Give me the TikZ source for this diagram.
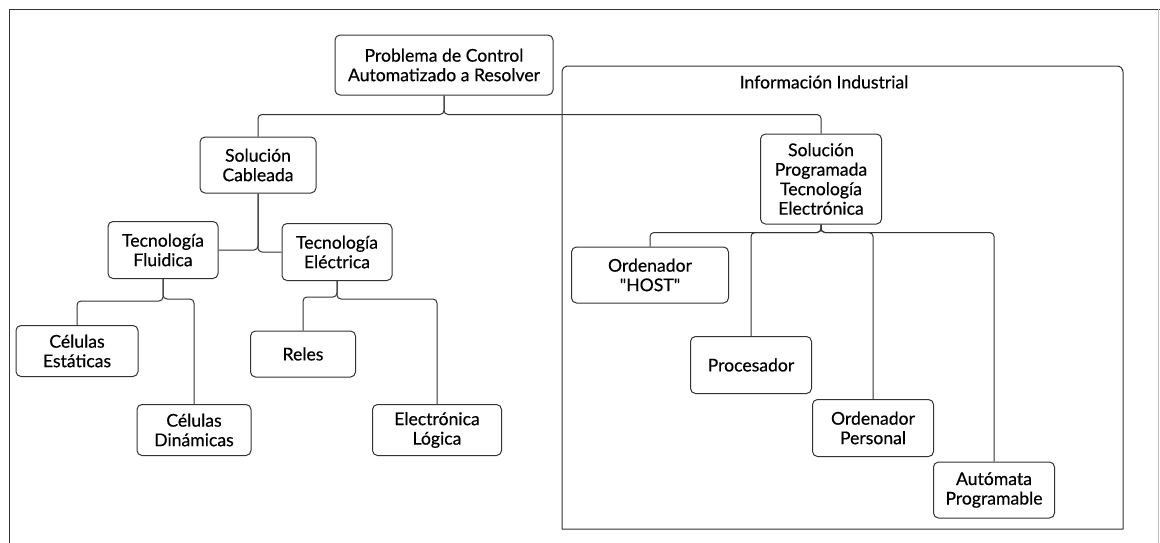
\documentclass[tikz,border=0pt]{standalone}
\usepackage{fontspec}
\setmainfont{Lato}[FakeBold=0.5, Ligatures=TeXOff]
\usetikzlibrary{positioning}

\begin{document}
\begin{tikzpicture}[x=1pt, y=-1pt,
    box/.style={draw=black!80, line width=1pt, rounded corners=5pt, align=center, inner sep=0pt, font=\fontsize{17.6}{19.5}\selectfont},
    lnk/.style={draw=black!80, line width=1pt, rounded corners=4pt},
    frm/.style={draw=black!80, line width=1pt},
    ttl/.style={font=\fontsize{17.6}{19.5}\selectfont}]
    \useasboundingbox (0,0) rectangle (1160,542);
    % outer frame
    \draw[frm] (9,545) -- (9,9) -- (1165,9);
    \draw[black!25, line width=0.8pt] (1158,9) -- (1158,545);
    % root
    \node[box, minimum width=218pt, minimum height=60pt] (prob) at (444,65) {Problema de Control\\Automatizado a Resolver};
    % wired solution
    \node[box, minimum width=116pt, minimum height=56pt] (cab) at (258,165) {Solución\\Cableada};
    \node[box, minimum width=110pt, minimum height=57pt] (flu) at (163,250) {Tecnología\\Fluidica};
    \node[box, minimum width=110pt, minimum height=57pt] (ele) at (337,252) {Tecnología\\Eléctrica};
    \node[box, minimum width=122pt, minimum height=51pt] (est) at (77,351) {Células\\Estáticas};
    \node[box, minimum width=114pt, minimum height=51pt] (din) at (194,430) {Células\\Dinámicas};
    \node[box, minimum width=105pt, minimum height=46pt] (rel) at (303,354) {Reles};
    \node[box, minimum width=129pt, minimum height=51pt] (elo) at (437,430) {Electrónica\\Lógica};
    % industrial information
    \draw[frm] (562,529) [rounded corners=6pt] -- (562,66) -- (1123,66) [sharp corners] -- (1123,529) -- cycle;
    \node[ttl] (infottl) at (824,82) {Información Industrial};
    \node[box, minimum width=121pt, minimum height=90pt] (prog) at (821,179) {Solución\\Programada\\Tecnología\\Electrónica};
    \node[box, minimum width=157pt, minimum height=56pt] (host) at (650,275) {Ordenador\\"HOST"};
    \node[box, minimum width=121pt, minimum height=57pt] (proc) at (751,365) {Procesador};
    \node[box, minimum width=121pt, minimum height=57pt] (pers) at (873,428) {Ordenador\\Personal};
    \node[box, minimum width=121pt, minimum height=56pt] (auto) at (994,490) {Autómata\\Programable};
    % links
    \draw[lnk] (prob.south) -- ++(0,19) -| (cab.north);
    \draw[lnk] (prob.south) -- ++(0,19) -| (prog.north);
    \draw[lnk] (cab.south) |- (flu.east);
    \draw[lnk] (cab.south) |- (ele.west);
    \draw[lnk] (flu.south) -- ++(0,22) -| (est.north);
    \draw[lnk] (flu.south) -- ++(0,20) -| (din.north);
    \draw[lnk] (ele.south) -- ++(0,16) -| (rel.north);
    \draw[lnk] (ele.south) -- ++(0,18) -| (elo.north);
    \foreach \kid in {host,proc,pers,auto}
      \draw[lnk] (prog.south) -- ++(0,8) -| (\kid.north);
\end{tikzpicture}
\end{document}
